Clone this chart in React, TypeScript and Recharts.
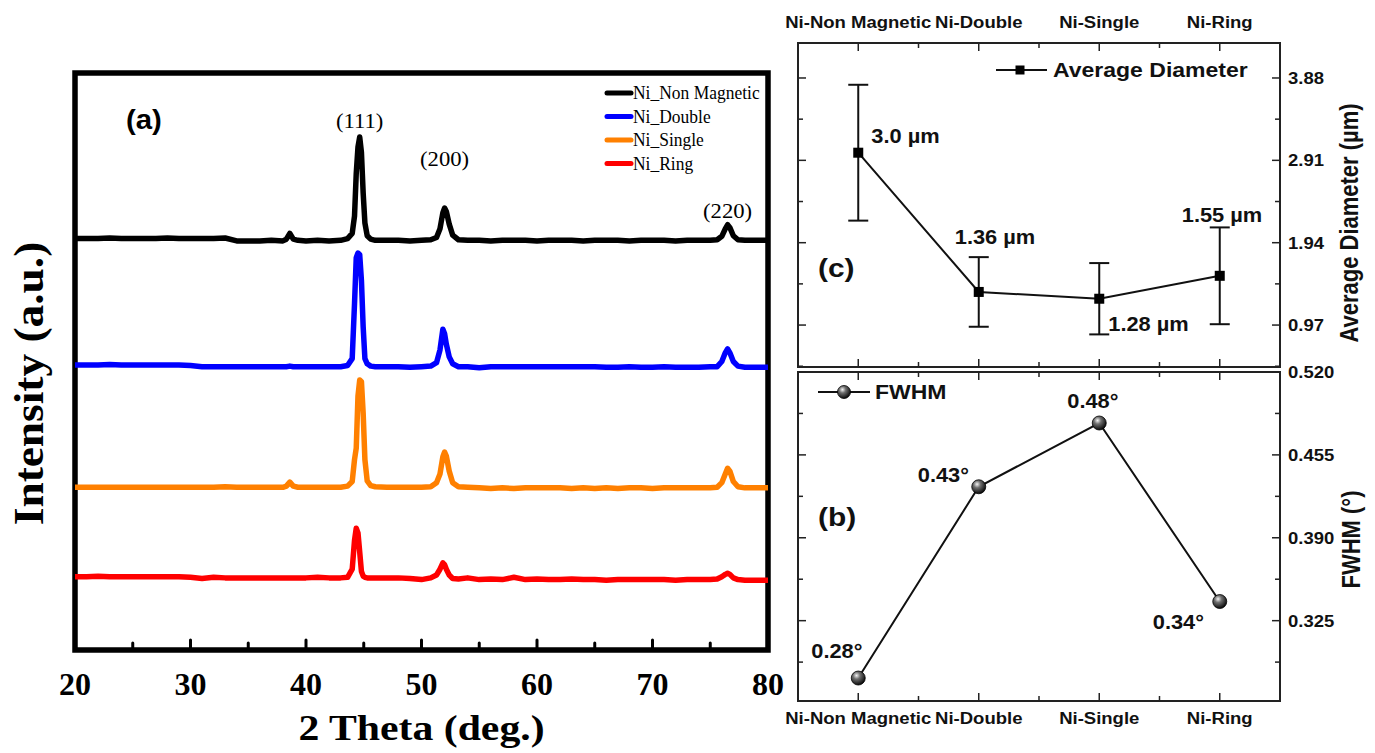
import React from 'react';
import {
  ComposedChart,
  ErrorBar,
  Label,
  LabelList,
  Legend,
  Line,
  LineChart,
  ReferenceArea,
  XAxis,
  YAxis,
} from 'recharts';

const SERIF = '"Liberation Serif", "Times New Roman", serif';
const SANS = '"Liberation Sans", Arial, Helvetica, sans-serif';

// ---- (a) XRD patterns, shared 2θ grid (deg.) ----
const twoTheta = [
  20, 21, 22, 23, 24, 25, 26, 27, 28, 29, 30, 31, 32, 33, 34, 35, 36, 37, 38,
  38.3, 38.6, 38.9, 39.3, 40, 41, 42, 43,
  43.6, 44.0, 44.2, 44.35, 44.5, 44.65, 44.8, 44.95, 45.1, 45.3, 45.6,
  46, 47, 48, 49, 50,
  50.8, 51.3, 51.6, 51.85, 52.0, 52.15, 52.4, 52.7, 53.2,
  54, 55, 56, 57, 58, 59, 60, 61, 62, 63, 64, 65, 66, 67, 68, 69, 70, 71, 72, 73, 74, 75,
  75.6, 76.0, 76.3, 76.5, 76.7, 77.0, 77.4,
  78, 79, 80,
];

// intensities (a.u., patterns stacked with an offset)
const niNonMagnetic = [
  713, 713, 713, 714, 713, 713, 713, 713, 714, 713, 713, 713, 713, 714, 709, 709, 709, 710, 709,
  712, 722, 712, 710, 709, 710, 709, 710,
  713, 722, 752, 826, 872, 889, 862, 792, 740, 718, 712,
  710, 710, 710, 709, 710,
  711, 715, 730, 758, 766, 760, 738, 719, 711,
  710, 710, 709, 710, 710, 710, 709, 710, 710, 710, 709, 710, 710, 710, 709, 710, 710, 710, 709, 710, 710, 710,
  711, 717, 730, 737, 732, 718, 711,
  710, 710, 710,
];
const niDouble = [
  494, 494, 494, 495, 494, 494, 494, 494, 494, 494, 493, 491, 491, 491, 491, 491, 491, 491, 491,
  491, 492, 491, 491, 491, 491, 491, 491,
  493, 505, 600, 680, 688, 685, 640, 560, 505, 496, 492,
  491, 491, 491, 490, 491,
  492, 498, 520, 556, 548, 530, 508, 496, 491,
  491, 489, 491, 491, 491, 491, 491, 491, 491, 491, 491, 491, 490, 490, 491, 490, 490, 491, 490, 490, 490, 491,
  491, 500, 515, 522, 515, 500, 492,
  490, 490, 490,
];
const niSingle = [
  282, 282, 282, 282, 282, 282, 282, 282, 282, 282, 282, 282, 282, 283, 282, 282, 282, 282, 282,
  284, 291, 284, 282, 282, 282, 282, 282,
  284, 292, 330, 350, 440, 468, 465, 410, 330, 293, 285,
  283, 282, 282, 282, 282,
  283, 290, 305, 335, 343, 336, 310, 290, 283,
  282, 281, 280, 281, 280, 281, 281, 281, 281, 280, 281, 280, 281, 280, 281, 281, 280, 281, 281, 281, 281, 281,
  282, 290, 305, 315, 310, 292, 283,
  281, 281, 281,
];
const niRing = [
  127, 127, 128, 127, 127, 127, 127, 127, 127, 127, 126, 124, 126, 125, 125, 125, 125, 125, 125,
  125, 125, 125, 125, 125, 126, 125, 125,
  126, 140, 190, 211, 203, 170, 136, 128, 126, 125, 125,
  125, 125, 125, 124, 122,
  125, 130, 140, 151, 148, 140, 130, 124, 123,
  125, 122, 123, 122, 126, 122, 123, 122, 122, 123, 122, 122, 121, 122, 122, 122, 122, 122, 121, 122, 122, 122,
  123, 127, 131, 133, 131, 125, 122,
  121, 121, 121,
];

const xrdSeries = [
  { key: 'nm', name: 'Ni_Non Magnetic', color: '#000000', values: niNonMagnetic },
  { key: 'db', name: 'Ni_Double', color: '#0000ff', values: niDouble },
  { key: 'sg', name: 'Ni_Single', color: '#ff8000', values: niSingle },
  { key: 'rg', name: 'Ni_Ring', color: '#ff0000', values: niRing },
];

const thetaTicks = [20, 25, 30, 35, 40, 45, 50, 55, 60, 65, 70, 75, 80];
const peakAt = [44.65, 52.0, 76.5];
const peakNames = ['(111)', '(200)', '(220)'];

// ---- (b), (c) per-sample results ----
const sampleNames = ['Ni-Non Magnetic', 'Ni-Double', 'Ni-Single', 'Ni-Ring'];
const avgDiameter = [3.0, 1.36, 1.28, 1.55];
const diameterError = [0.8, 0.41, 0.42, 0.57];
const fwhm = [0.28, 0.43, 0.48, 0.34];

const sampleTicks = [1, 1.5, 2, 2.5, 3, 3.5, 4];
const diameterTicks = [0.485, 0.97, 1.455, 1.94, 2.425, 2.91, 3.395, 3.88];
const diameterLabelled = [0.97, 1.94, 2.91, 3.88];
const fwhmTicks = [0.2925, 0.325, 0.3575, 0.39, 0.4225, 0.455, 0.4875, 0.52];
const fwhmLabelled = [0.325, 0.39, 0.455, 0.52];

const xrdRows = twoTheta.map((t, i) => {
  const row: Record<string, number> = { t };
  xrdSeries.forEach((s) => (row[s.key] = s.values[i]));
  return row;
});
const diameterRows = sampleNames.map((name, i) => ({ pos: i + 1, name, d: avgDiameter[i], err: diameterError[i] }));
const fwhmRows = sampleNames.map((name, i) => ({ pos: i + 1, name, w: fwhm[i] }));

// layout of the right-hand panels
const RIGHT_W = 595;
const PLOT_W = 482;
const DIA_H = 370;
const DIA_PLOT_H = 324;
const FW_H = 398;
const FW_PLOT_H = 329;
const SX = 1.12;

type TxtProps = {
  x: number;
  y: number;
  size: number;
  family?: string;
  weight?: string | number;
  anchor?: 'start' | 'middle' | 'end';
  sx?: number;
  sy?: number;
  rotate?: number;
  fill?: string;
  children: React.ReactNode;
};

const Txt = ({ x, y, size, family = SANS, weight = 'bold', anchor = 'start', sx = 1, sy = 1, rotate = 0, fill = '#111', children }: TxtProps) => (
  <text
    transform={`translate(${x} ${y}) rotate(${rotate}) scale(${sx} ${sy})`}
    fontSize={size}
    fontFamily={family}
    fontWeight={weight}
    textAnchor={anchor}
    fill={fill}
  >
    {children}
  </text>
);

// inward ticks on the bottom of (a), labels only on the tens
const ThetaTick = (props: any) => {
  const { x, y, payload } = props;
  const v = payload.value as number;
  const major = v % 10 === 0;
  return (
    <g>
      <line x1={x} x2={x} y1={y} y2={y - (major ? 10 : 7)} stroke="#000" strokeWidth={3} strokeLinecap="round" />
      {major && (
        <Txt x={x} y={y + 45} size={32} family={SERIF} anchor="middle" fill="#000">
          {v}
        </Txt>
      )}
    </g>
  );
};

// sample axis: tick on this edge and on the opposite edge, both pointing inward
const SampleTick = (props: any) => {
  const { x, y, payload, side, plotH, showLabel } = props;
  const v = payload.value as number;
  const major = Number.isInteger(v);
  const len = major ? 8 : 5;
  const dir = side === 'top' ? 1 : -1;
  const yo = y + dir * plotH;
  return (
    <g>
      <line x1={x} x2={x} y1={y} y2={y + dir * len} stroke="#222" strokeWidth={1.5} />
      <line x1={x} x2={x} y1={yo} y2={yo - dir * len} stroke="#222" strokeWidth={1.5} />
      {major && showLabel && (
        <Txt x={x} y={side === 'top' ? y - 15 : y + 23} size={17} anchor="middle" sx={1.09}>
          {sampleNames[v - 1]}
        </Txt>
      )}
    </g>
  );
};

// value axis on the right, mirrored tick marks on the left edge
const ValueTick = (props: any) => {
  const { x, y, payload, labelled, digits } = props;
  const v = payload.value as number;
  const major = labelled.includes(v);
  const len = major ? 8 : 5;
  return (
    <g>
      <line x1={x} x2={x - len} y1={y} y2={y} stroke="#222" strokeWidth={1.5} />
      <line x1={x - PLOT_W} x2={x - PLOT_W + len} y1={y} y2={y} stroke="#222" strokeWidth={1.5} />
      {major && (
        <Txt x={x + 8} y={y + 6} size={16.5} sx={SX}>
          {v.toFixed(digits)}
        </Txt>
      )}
    </g>
  );
};

const SphereDefs = () => (
  <defs>
    <radialGradient id="sphereShade" cx="38%" cy="32%" r="72%">
      <stop offset="0%" stopColor="#f4f4f4" />
      <stop offset="35%" stopColor="#707070" />
      <stop offset="100%" stopColor="#000" />
    </radialGradient>
  </defs>
);

const squareDot = (p: any) => <rect key={`sq-${p.index}`} x={p.cx - 5} y={p.cy - 5} width={10} height={10} fill="#000" />;

const sphereDot = (p: any) => (
  <g key={`sp-${p.index}`}>
    <SphereDefs />
    <circle cx={p.cx} cy={p.cy} r={7} fill="url(#sphereShade)" stroke="#000" strokeWidth={0.8} />
  </g>
);

// legend rows keep the plotting order of the patterns
const xrdLegend = (props: any) => {
  const payload: any[] = props.payload ?? [];
  const items = xrdSeries
    .map((s) => payload.find((p) => p.value === s.name))
    .filter(Boolean);
  return (
    <svg width={175} height={95}>
      {items.map((it: any, i: number) => {
        const cy = 13 + i * 23.5;
        return (
          <g key={it.value}>
            <line x1={9} x2={33} y1={cy} y2={cy} stroke={it.color} strokeWidth={5} strokeLinecap="round" />
            <Txt x={35} y={cy + 6} size={19} family={SERIF} weight="normal" sx={0.92} fill="#000">
              {it.value}
            </Txt>
          </g>
        );
      })}
    </svg>
  );
};

const diameterLegend = (props: any) => {
  const it = props.payload?.[0];
  return (
    <svg width={270} height={30}>
      <line x1={0} x2={51} y1={14} y2={14} stroke="#111" strokeWidth={2} />
      <rect x={19.5} y={9.5} width={9} height={9} fill="#000" />
      <Txt x={57} y={21} size={20} sx={1.15}>
        {it?.value}
      </Txt>
    </svg>
  );
};

const fwhmLegend = (props: any) => {
  const it = props.payload?.[0];
  return (
    <svg width={170} height={30}>
      <SphereDefs />
      <line x1={0} x2={52} y1={14} y2={14} stroke="#111" strokeWidth={2} />
      <circle cx={26} cy={14} r={6.5} fill="url(#sphereShade)" stroke="#000" strokeWidth={0.8} />
      <Txt x={57} y={21} size={20} sx={1.15}>
        {it?.value}
      </Txt>
    </svg>
  );
};

// value annotations next to the markers (dx, dy from the marker)
const diameterLabelOffset = [
  [13, -10],
  [-24, -48],
  [9, 32],
  [-38, -54],
];
const fwhmLabelOffset = [
  [-47, -20],
  [-61, -5],
  [-32, -15],
  [-67, 27],
];
const peakLabelLift = [9, 42, 7];

const pointOf = (p: any) => {
  const vb = p.viewBox ?? {};
  return { px: (vb.x ?? p.x) as number, py: (vb.y ?? p.y) as number };
};

const fmtDiameter = (v: number) => (Number.isInteger(v) ? v.toFixed(1) : String(v));

const XrdPanel = () => (
  <LineChart width={800} height={753} data={xrdRows} margin={{ top: 73, right: 32, bottom: 0, left: 0 }}>
    <XAxis
      dataKey="t"
      type="number"
      domain={[20, 80]}
      ticks={thetaTicks}
      interval={0}
      height={103}
      tickSize={0}
      tickMargin={0}
      tickLine={false}
      axisLine={false}
      tick={(p: any) => <ThetaTick {...p} />}
    >
      <Label
        content={(p: any) => (
          <Txt x={p.viewBox.x + p.viewBox.width / 2} y={p.viewBox.y + 90} size={36} family={SERIF} anchor="middle" sx={1.16} fill="#000">
            2 Theta (deg.)
          </Txt>
        )}
      />
    </XAxis>
    <YAxis type="number" domain={[0, 1000]} width={75} tick={false} tickLine={false} axisLine={false}>
      <Label
        content={(p: any) => (
          <Txt x={p.viewBox.x + 43} y={p.viewBox.y + p.viewBox.height / 2 + 22} size={42} family={SERIF} anchor="middle" rotate={-90} sx={1.08} fill="#000">
            Intensity (a.u.)
          </Txt>
        )}
      />
    </YAxis>
    <ReferenceArea x1={20} x2={80} y1={0} y2={1000} fill="none" stroke="#000" strokeWidth={5.5}>
      <Label
        content={(p: any) => (
          <Txt x={p.viewBox.x + 51} y={p.viewBox.y + 56} size={28} sx={1.05} fill="#000">
            (a)
          </Txt>
        )}
      />
    </ReferenceArea>
    {xrdSeries.map((s) => (
      <Line
        key={s.key}
        dataKey={s.key}
        name={s.name}
        stroke={s.color}
        strokeWidth={5.5}
        strokeLinejoin="round"
        dot={false}
        isAnimationActive={false}
      >
        {s.key === 'nm' && (
          <LabelList
            dataKey={s.key}
            content={(p: any) => {
              const k = peakAt.indexOf(twoTheta[p.index]);
              if (k < 0) return null;
              const { px, py } = pointOf(p);
              return (
                <Txt x={px} y={py - peakLabelLift[k]} size={21} family={SERIF} weight="normal" anchor="middle" sx={1.08} fill="#000">
                  {peakNames[k]}
                </Txt>
              );
            }}
          />
        )}
      </Line>
    ))}
    <Legend
      layout="horizontal"
      verticalAlign="middle"
      align="center"
      content={xrdLegend}
      wrapperStyle={{ position: 'absolute', left: 598, top: 80, width: 175, height: 95 }}
    />
  </LineChart>
);

const DiameterPanel = () => (
  <ComposedChart width={RIGHT_W} height={DIA_H} data={diameterRows} margin={{ top: 0, right: 0, bottom: 3, left: 18 }}>
    <XAxis
      xAxisId="top"
      orientation="top"
      dataKey="pos"
      type="number"
      domain={[0.5, 4.5]}
      ticks={sampleTicks}
      interval={0}
      height={43}
      tickSize={0}
      tickMargin={0}
      tickLine={false}
      axisLine={false}
      tick={(p: any) => <SampleTick {...p} side="top" plotH={DIA_PLOT_H} showLabel />}
    />
    <YAxis
      yAxisId="right"
      orientation="right"
      type="number"
      domain={[0.476, 4.292]}
      ticks={diameterTicks}
      interval={0}
      width={95}
      tickSize={0}
      tickMargin={0}
      tickLine={false}
      axisLine={false}
      tick={(p: any) => <ValueTick {...p} labelled={diameterLabelled} digits={2} />}
    >
      <Label
        content={(p: any) => (
          <Txt x={p.viewBox.x + 78} y={p.viewBox.y + p.viewBox.height / 2 + 18} size={22} anchor="middle" rotate={-90} sy={1.2}>
            Average Diameter (µm)
          </Txt>
        )}
      />
    </YAxis>
    <ReferenceArea xAxisId="top" yAxisId="right" x1={0.5} x2={4.5} y1={0.476} y2={4.292} fill="none" stroke="#222" strokeWidth={2}>
      <Label
        content={(p: any) => (
          <Txt x={p.viewBox.x + 20} y={p.viewBox.y + 234} size={26} sx={1.15}>
            (c)
          </Txt>
        )}
      />
    </ReferenceArea>
    <Line
      xAxisId="top"
      yAxisId="right"
      dataKey="d"
      name="Average Diameter"
      stroke="#111"
      strokeWidth={2}
      dot={squareDot}
      isAnimationActive={false}
    >
      <ErrorBar dataKey="err" direction="y" width={10} stroke="#111" strokeWidth={2} isAnimationActive={false} />
      <LabelList
        dataKey="d"
        content={(p: any) => {
          const { px, py } = pointOf(p);
          const [dx, dy] = diameterLabelOffset[p.index];
          return (
            <Txt x={px + dx} y={py + dy} size={19.5} sx={1.12}>
              {`${fmtDiameter(Number(p.value))} µm`}
            </Txt>
          );
        }}
      />
    </Line>
    <Legend
      layout="horizontal"
      verticalAlign="middle"
      align="center"
      content={diameterLegend}
      wrapperStyle={{ position: 'absolute', left: 216, top: 56, width: 270, height: 30 }}
    />
  </ComposedChart>
);

const FwhmPanel = () => (
  <ComposedChart width={RIGHT_W} height={FW_H} data={fwhmRows} margin={{ top: 17, right: 0, bottom: 0, left: 18 }}>
    <XAxis
      xAxisId="bottom"
      orientation="bottom"
      dataKey="pos"
      type="number"
      domain={[0.5, 4.5]}
      ticks={sampleTicks}
      interval={0}
      height={52}
      tickSize={0}
      tickMargin={0}
      tickLine={false}
      axisLine={false}
      tick={(p: any) => <SampleTick {...p} side="bottom" plotH={FW_PLOT_H} showLabel />}
    />
    <YAxis
      yAxisId="right"
      orientation="right"
      type="number"
      domain={[0.262, 0.52]}
      ticks={fwhmTicks}
      interval={0}
      width={95}
      tickSize={0}
      tickMargin={0}
      tickLine={false}
      axisLine={false}
      tick={(p: any) => <ValueTick {...p} labelled={fwhmLabelled} digits={3} />}
    >
      <Label
        content={(p: any) => (
          <Txt x={p.viewBox.x + 80} y={p.viewBox.y + p.viewBox.height / 2 + 3} size={22} anchor="middle" rotate={-90} sy={1.2}>
            FWHM (°)
          </Txt>
        )}
      />
    </YAxis>
    <ReferenceArea xAxisId="bottom" yAxisId="right" x1={0.5} x2={4.5} y1={0.262} y2={0.52} fill="none" stroke="#222" strokeWidth={2}>
      <Label
        content={(p: any) => (
          <Txt x={p.viewBox.x + 20} y={p.viewBox.y + 154} size={26} sx={1.15}>
            (b)
          </Txt>
        )}
      />
    </ReferenceArea>
    <Line
      xAxisId="bottom"
      yAxisId="right"
      dataKey="w"
      name="FWHM"
      stroke="#111"
      strokeWidth={2}
      dot={sphereDot}
      isAnimationActive={false}
    >
      <LabelList
        dataKey="w"
        content={(p: any) => {
          const { px, py } = pointOf(p);
          const [dx, dy] = fwhmLabelOffset[p.index];
          return (
            <Txt x={px + dx} y={py + dy} size={19.5} sx={1.12}>
              {`${Number(p.value).toFixed(2)}°`}
            </Txt>
          );
        }}
      />
    </Line>
    <Legend
      layout="horizontal"
      verticalAlign="middle"
      align="center"
      content={fwhmLegend}
      wrapperStyle={{ position: 'absolute', left: 38, top: 23, width: 170, height: 30 }}
    />
  </ComposedChart>
);

export default function App() {
  return (
    <div style={{ position: 'absolute', left: 0, top: 0, width: 1375, height: 753, background: '#fff', overflow: 'hidden' }}>
      <div style={{ position: 'absolute', left: 0, top: 0 }}>
        <XrdPanel />
      </div>
      <div style={{ position: 'absolute', left: 780, top: 0 }}>
        <DiameterPanel />
      </div>
      <div style={{ position: 'absolute', left: 780, top: 355 }}>
        <FwhmPanel />
      </div>
    </div>
  );
}
